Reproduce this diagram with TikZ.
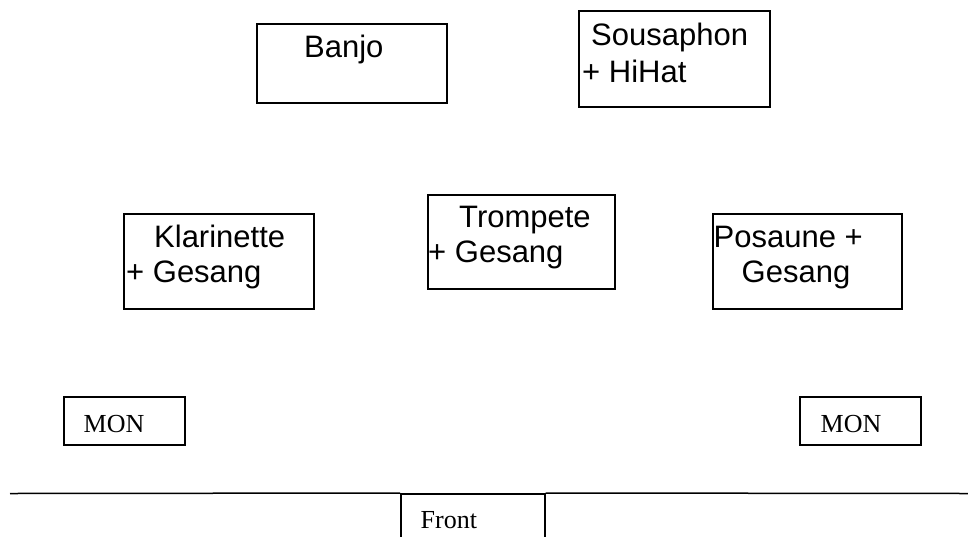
\documentclass[tikz,border=0pt]{standalone}
\usepackage{fontspec}
\setmainfont{Liberation Sans}
\newfontfamily\serifmon{Liberation Serif}
\begin{document}
\begin{tikzpicture}[x=1pt,y=-1pt,
  box/.style={draw, line width=1.5pt, inner sep=0pt, anchor=north west},
  lbl/.style={anchor=base west, inner sep=0pt, font=\fontsize{31}{31}\selectfont},
  mlbl/.style={anchor=base west, inner sep=0pt, font=\serifmon\fontsize{26}{26}\selectfont}]
\useasboundingbox (0,0) rectangle (968,536);
\clip (0,0) rectangle (968,536);
% boxes
\node[box, minimum width=190pt, minimum height=79pt] (banjo) at (256,23) {};
\node[box, minimum width=191pt, minimum height=96pt] (sousa) at (578,10) {};
\node[box, minimum width=190pt, minimum height=95pt] (klar) at (123,213) {};
\node[box, minimum width=187pt, minimum height=94pt] (trom) at (427,194) {};
\node[box, minimum width=189pt, minimum height=95pt] (posa) at (712,213) {};
\node[box, minimum width=121pt, minimum height=48pt] (monl) at (63,396) {};
\node[box, minimum width=121pt, minimum height=48pt] (monr) at (799,396) {};
\node[box, minimum width=144pt, minimum height=70pt] (front) at (400,493) {};
% texts
\node[lbl] (tbanjo) at (304,57) {Banjo};
\node[lbl] (tsousa1) at (591,45) {Sousaphon};
\node[lbl] (tsousa2) at (582,82) {+ HiHat};
\node[lbl] (tklar1) at (154,247) {Klarinette};
\node[lbl] (tklar2) at (126,282) {+ Gesang};
\node[lbl] (ttrom1) at (459,227) {Trompete};
\node[lbl] (ttrom2) at (428,262) {+ Gesang};
\node[lbl] (tposa1) at (713.5,247) {Posaune +};
\node[lbl] (tposa2) at (741.5,282) {Gesang};
\node[mlbl] (tmonl) at (83.5,432) {MON};
\node[mlbl] (tmonr) at (820.5,432) {MON};
\node[mlbl] (tfront) at (420.5,528) {Front};
% stage front line
\coordinate (lineL) at (10,493.5);
\coordinate (lineR) at (968,493.5);
\draw[line width=1.5pt] (lineL) -- (front.north west);
\draw[line width=1.5pt] (front.north east) -- (lineR);
\end{tikzpicture}
\end{document}
